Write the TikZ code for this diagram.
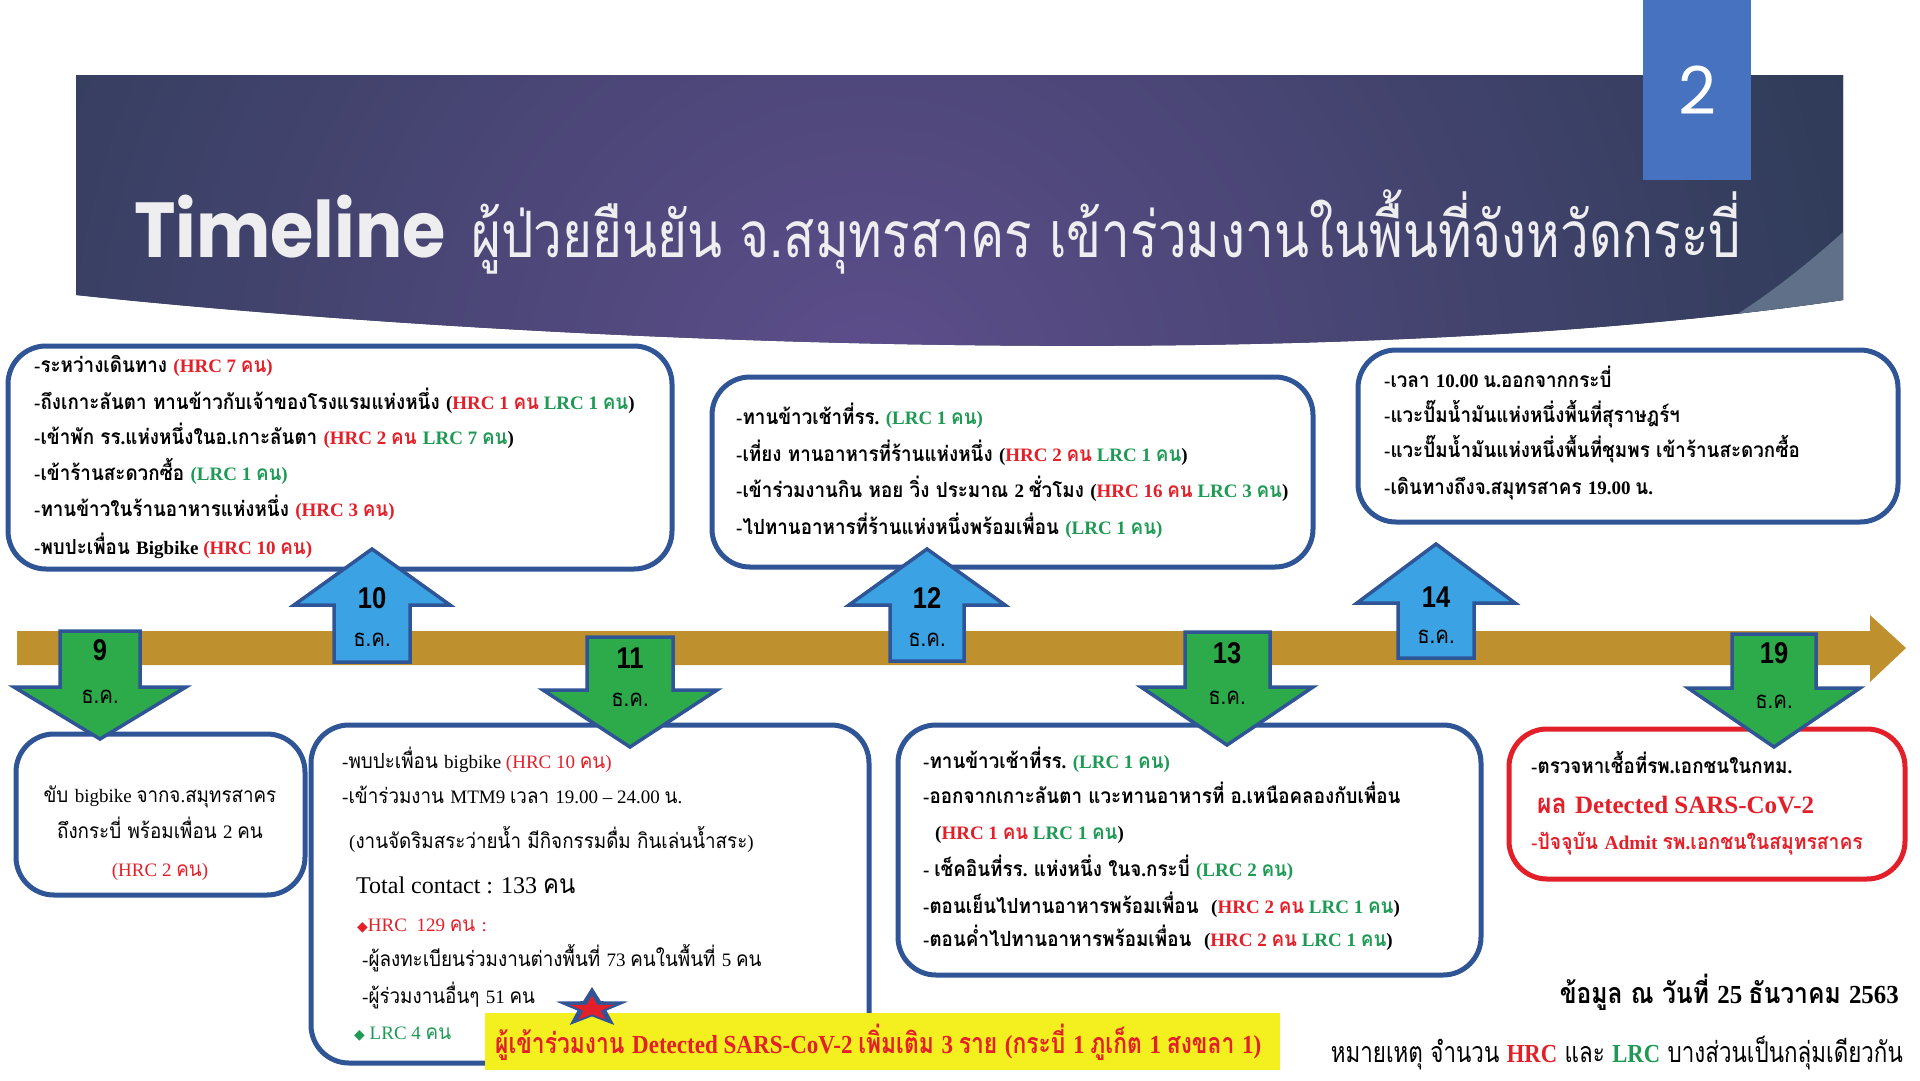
\documentclass[tikz,border=0pt]{standalone}
\usepackage{fontspec}
\usepackage{graphicx}
\setmainfont{Liberation Serif}
\newfontfamily\thaifont[Script=Thai,FakeStretch=0.9,Scale=1.1]{Loma}
\newfontfamily\thaititle[Script=Thai,FakeStretch=0.8]{Loma}
\newfontfamily\thaisans[Script=Thai,FakeStretch=0.85]{Loma}
\newfontfamily\popfont{Poppins}
\newfontfamily\poptl[FakeStretch=0.9]{Poppins}
\newfontfamily\datefont[FakeStretch=0.85]{Liberation Sans}
\newfontfamily\djv{DejaVu Sans}
\definecolor{hrc}{HTML}{E3202A}
\definecolor{lrc}{HTML}{1E9A55}
\definecolor{boxblue}{HTML}{2F5597}
\definecolor{upblue}{HTML}{3BA3E3}
\definecolor{downgreen}{HTML}{2DAA4A}
\definecolor{barcol}{HTML}{BF912E}
\definecolor{ylw}{HTML}{F4EF1F}
\definecolor{numbox}{HTML}{4672C0}
\definecolor{hdrbase}{HTML}{2E3B57}
\definecolor{hdrpurple}{HTML}{5E4E8C}
\definecolor{hdrlight}{HTML}{617089}
\definecolor{titlecol}{HTML}{EEEEF0}
\newcommand\cH[1]{\textcolor{hrc}{#1}}
\newcommand\cL[1]{\textcolor{lrc}{#1}}
% automatic switch to a Thai font for Thai characters
\XeTeXinterchartokenstate=1
\newXeTeXintercharclass\thaicls
\newXeTeXintercharclass\symcls
\count255="0E01
\loop\ifnum\count255<"0E5C\relax
  \XeTeXcharclass\count255=\thaicls
  \advance\count255 by 1
\repeat
\XeTeXcharclass"25C6=\symcls
\def\thaisw{\thaifont}
\def\latsw{\rmfamily}
\XeTeXinterchartoks 0 \thaicls = {\thaisw}
\XeTeXinterchartoks 4095 \thaicls = {\thaisw}
\XeTeXinterchartoks \thaicls 0 = {\latsw}
\XeTeXinterchartoks 4095 0 = {\latsw}
\newcommand\fitw[2]{\resizebox{#1pt}{\height}{#2}}
\tikzset{
  tlbox/.style={draw=boxblue, line width=5pt, rounded corners=38pt, fill=white},
  redbox/.style={draw=hrc, line width=5pt, rounded corners=38pt, fill=white},
  uparr/.style={fill=upblue, draw=boxblue, line width=3.5pt, line join=miter},
  dnarr/.style={fill=downgreen, draw=boxblue, line width=3.5pt, line join=miter},
  bt/.style={anchor=base west, inner sep=0pt, font=\fontsize{19}{19}\selectfont\bfseries},
  rt/.style={anchor=base west, inner sep=0pt, font=\fontsize{19}{19}\selectfont},
  daynum/.style={inner sep=0pt, font={\def\latsw{}\datefont\fontsize{30}{30}\selectfont\bfseries}},
  daymon/.style={inner sep=0pt, font={\def\latsw{}\def\thaisw{\thaisans}\fontsize{24}{24}\selectfont}},
}
\begin{document}
\begin{tikzpicture}[x=1pt,y=-1pt]
\useasboundingbox (0,0) rectangle (1920,1080);
\fill[white] (0,0) rectangle (1920,1080);
% ---- header band
\fill[hdrbase] (76,75) -- (1843,75) -- (1843,300) .. controls (1300,380) and (500,340) .. (76,295) -- cycle;
\begin{scope}
  \clip (76,75) -- (1843,75) -- (1843,300) .. controls (1300,380) and (500,340) .. (76,295) -- cycle;
  \shade[inner color=hdrpurple, outer color=hdrbase] (870,400) circle (1050);
  \fill[hdrlight] (1843,232) .. controls (1790,280) and (1740,315) .. (1700,336) .. controls (1760,322) and (1800,312) .. (1843,300) -- cycle;
\end{scope}
\fill[numbox] (1643,0) rectangle (1751,180);
\node[inner sep=0pt, text=white, font={\def\latsw{}\popfont\fontsize{66}{66}\selectfont}] (pagenum) at (1697,90) {2};
\node[anchor=base west, inner sep=0pt, text=titlecol, font={\def\latsw{}\poptl\bfseries\fontsize{78}{78}\selectfont}] (ttl) at (134,257) {Timeline};
\node[anchor=base west, inner sep=0pt, text=titlecol, font={\def\latsw{}\def\thaisw{\thaititle}\fontsize{64}{64}\selectfont}] (ttlthai) at (471,257) {ผู้ป่วยยืนยัน จ.สมุทรสาคร เข้าร่วมงานในพื้นที่จังหวัดกระบี่};
% ---- time bar
\fill[barcol] (17,631) -- (1870,631) -- (1870,615) -- (1906,648) -- (1870,682) -- (1870,665) -- (17,665) -- cycle;
% ---- boxes
\draw[tlbox] (8,346) rectangle (672,569);
\draw[tlbox] (712,377) rectangle (1313,567);
\draw[tlbox] (1358,350) rectangle (1898,522);
\draw[tlbox] (16,734) rectangle (305,895);
\draw[tlbox] (311,725) rectangle (869,1063);
\draw[tlbox] (898,725) rectangle (1481,975);
\draw[redbox] (1509,729) rectangle (1905,879);
% ---- up arrows
\draw[uparr] (372,549) -- (450,605) -- (410,605) -- (410,662) -- (334,662) -- (334,605) -- (294,605) -- cycle;
\draw[uparr] (927,549) -- (1005,605) -- (964,605) -- (964,661) -- (890,661) -- (890,605) -- (849,605) -- cycle;
\draw[uparr] (1436,544) -- (1515,603) -- (1474,603) -- (1474,658) -- (1398,658) -- (1398,603) -- (1357,603) -- cycle;
% ---- down arrows
\draw[dnarr] (60,631) -- (140,631) -- (140,687) -- (186,687) -- (100,739) -- (14,687) -- (60,687) -- cycle;
\draw[dnarr] (587,637) -- (673,637) -- (673,690) -- (717,690) -- (630,747) -- (543,690) -- (587,690) -- cycle;
\draw[dnarr] (1185,632) -- (1270,632) -- (1270,687) -- (1313,687) -- (1227,745) -- (1141,687) -- (1185,687) -- cycle;
\draw[dnarr] (1732,634) -- (1816,634) -- (1816,688) -- (1860,688) -- (1774,747) -- (1688,688) -- (1732,688) -- cycle;
% ---- day labels
\node[daynum] (d10) at (372,598) {10};
\node[daymon] (m10) at (372,640) {ธ.ค.};
\node[daynum] (d12) at (927,598) {12};
\node[daymon] (m12) at (927,640) {ธ.ค.};
\node[daynum] (d14) at (1436,597) {14};
\node[daymon] (m14) at (1436,637) {ธ.ค.};
\node[daynum] (d9) at (100,650) {9};
\node[daymon] (m9) at (100,697) {ธ.ค.};
\node[daynum] (d11) at (630,658) {11};
\node[daymon] (m11) at (630,700) {ธ.ค.};
\node[daynum] (d13) at (1227,653) {13};
\node[daymon] (m13) at (1227,698) {ธ.ค.};
\node[daynum] (d19) at (1774,653) {19};
\node[daymon] (m19) at (1774,702) {ธ.ค.};
% ---- box 10 Dec
\node[bt] (a1) at (34,372) {-ระหว่างเดินทาง \cH{(HRC 7 คน)}};
\node[bt] (a2) at (34,409) {-ถึงเกาะลันตา ทานข้าวกับเจ้าของโรงแรมแห่งหนึ่ง (\cH{HRC 1 คน} \cL{LRC 1 คน})};
\node[bt] (a3) at (34,444) {-เข้าพัก รร.แห่งหนึ่งในอ.เกาะลันตา \cH{(HRC 2 คน} \cL{LRC 7 คน})};
\node[bt] (a4) at (34,480) {-เข้าร้านสะดวกซื้อ \cL{(LRC 1 คน)}};
\node[bt] (a5) at (34,516) {-ทานข้าวในร้านอาหารแห่งหนึ่ง \cH{(HRC 3 คน)}};
\node[bt] (a6) at (34,554) {-พบปะเพื่อน Bigbike \cH{(HRC 10 คน)}};
% ---- box 12 Dec
\node[bt] (b1) at (736,424) {-ทานข้าวเช้าที่รร. \cL{(LRC 1 คน)}};
\node[bt] (b2) at (736,461) {-เที่ยง ทานอาหารที่ร้านแห่งหนึ่ง (\cH{HRC 2 คน} \cL{LRC 1 คน})};
\node[bt] (b3) at (736,497) {-เข้าร่วมงานกิน หอย วิ่ง ประมาณ 2 ชั่วโมง (\cH{HRC 16 คน} \cL{LRC 3 คน})};
\node[bt] (b4) at (736,534) {-ไปทานอาหารที่ร้านแห่งหนึ่งพร้อมเพื่อน \cL{(LRC 1 คน)}};
% ---- box 14 Dec
\node[bt] (c1) at (1384,387) {-เวลา 10.00 น.ออกจากกระบี่};
\node[bt] (c2) at (1384,422) {-แวะปั๊มน้ำมันแห่งหนึ่งพื้นที่สุราษฎร์ฯ};
\node[bt] (c3) at (1384,457) {-แวะปั๊มน้ำมันแห่งหนึ่งพื้นที่ชุมพร เข้าร้านสะดวกซื้อ};
\node[bt] (c4) at (1384,494) {-เดินทางถึงจ.สมุทรสาคร 19.00 น.};
% ---- box 9 Dec
\node[rt, anchor=base] (e1) at (160,802) {ขับ bigbike จากจ.สมุทรสาคร};
\node[rt, anchor=base] (e2) at (160,838) {ถึงกระบี่ พร้อมเพื่อน 2 คน};
\node[rt, anchor=base] (e3) at (160,876) {\cH{(HRC 2 คน)}};
% ---- box 11 Dec
\node[rt] (f1) at (342,768) {-พบปะเพื่อน bigbike \cH{(HRC 10 คน)}};
\node[rt] (f2) at (342,803) {-เข้าร่วมงาน MTM9 เวลา 19.00 – 24.00 น.};
\node[rt] (f3) at (349,848) {(งานจัดริมสระว่ายน้ำ มีกิจกรรมดื่ม กินเล่นน้ำสระ)};
\node[rt, font=\fontsize{24}{24}\selectfont] (f4) at (356,893) {Total contact : 133 คน};
\node[rt] (f5) at (357,931) {\cH{{\djv\fontsize{14}{14}\selectfont ◆}HRC\ \ 129 คน :}};
\node[rt] (f6) at (362,966) {-ผู้ลงทะเบียนร่วมงานต่างพื้นที่ 73 คนในพื้นที่ 5 คน};
\node[rt] (f7) at (362,1003) {-ผู้ร่วมงานอื่นๆ 51 คน};
\node[rt] (f8) at (354,1039) {\cL{{\djv\fontsize{14}{14}\selectfont ◆} LRC 4 คน}};
% ---- box 13 Dec
\node[bt] (g1) at (923,768) {-ทานข้าวเช้าที่รร. \cL{(LRC 1 คน)}};
\node[bt] (g2) at (923,803) {-ออกจากเกาะลันตา แวะทานอาหารที่ อ.เหนือคลองกับเพื่อน};
\node[bt] (g3) at (935,839) {(\cH{HRC 1 คน} \cL{LRC 1 คน})};
\node[bt] (g4) at (923,876) {- เช็คอินที่รร. แห่งหนึ่ง ในจ.กระบี่ \cL{(LRC 2 คน)}};
\node[bt] (g5) at (923,913) {-ตอนเย็นไปทานอาหารพร้อมเพื่อน\ \ (\cH{HRC 2 คน} \cL{LRC 1 คน})};
\node[bt] (g6) at (923,946) {-ตอนค่ำไปทานอาหารพร้อมเพื่อน\ \ (\cH{HRC 2 คน} \cL{LRC 1 คน})};
% ---- box 19 Dec
\node[bt] (h1) at (1531,773) {-ตรวจหาเชื้อที่รพ.เอกชนในกทม.};
\node[bt, text=hrc, font=\fontsize{25}{25}\selectfont\bfseries] (h2) at (1537,813) {ผล Detected SARS-CoV-2};
\node[bt, text=hrc, font=\fontsize{19.5}{19.5}\selectfont\bfseries] (h3) at (1531,849) {-ปัจจุบัน Admit รพ.เอกชนในสมุทรสาคร};
% ---- banner
\fill[ylw] (485,1013) rectangle (1280,1070);
\node[bt, text=hrc, font=\fontsize{26}{26}\selectfont\bfseries] (ban) at (495,1053) {\fitw{766}{ผู้เข้าร่วมงาน Detected SARS-CoV-2 เพิ่มเติม 3 ราย (กระบี่ 1 ภูเก็ต 1 สงขลา 1)}};
\fill[boxblue, shift={(592,1008)}, xscale=38, yscale=21] (-90:1) -- (-54:0.4) -- (-18:1) -- (18:0.4) -- (54:1) -- (90:0.4) -- (126:1) -- (162:0.4) -- (198:1) -- (234:0.4) -- cycle;
\fill[hrc, shift={(592,1009)}, xscale=23, yscale=13] (-90:1) -- (-54:0.4) -- (-18:1) -- (18:0.4) -- (54:1) -- (90:0.4) -- (126:1) -- (162:0.4) -- (198:1) -- (234:0.4) -- cycle;
% ---- footer
\node[bt, anchor=base east, font=\fontsize{26}{26}\selectfont\bfseries] (datainfo) at (1899,1003) {\fitw{339}{ข้อมูล ณ วันที่ 25 ธันวาคม 2563}};
\node[rt, anchor=base east, font=\fontsize{26}{26}\selectfont] (note) at (1903,1062) {\fitw{572}{หมายเหตุ จำนวน \cH{\bfseries HRC} และ \cL{\bfseries LRC} บางส่วนเป็นกลุ่มเดียวกัน}};
\end{tikzpicture}
\end{document}
